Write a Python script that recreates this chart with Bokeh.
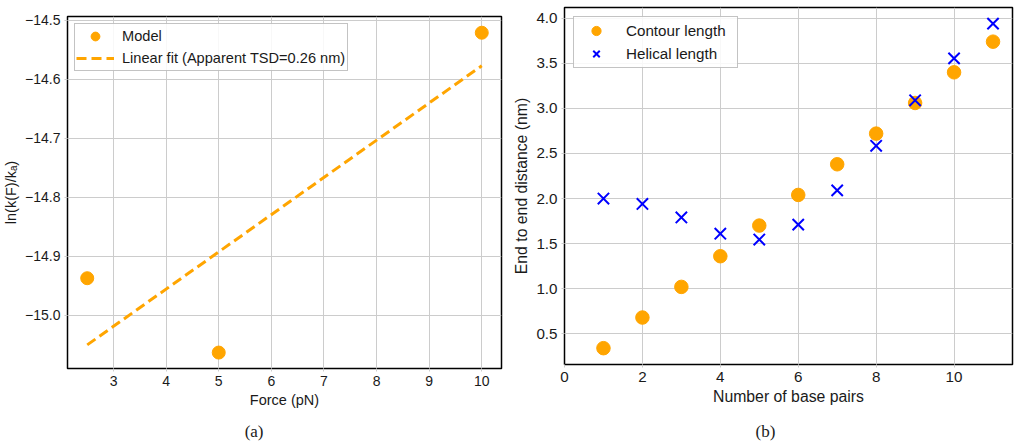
from bokeh.plotting import figure
from bokeh.layouts import row, column
from bokeh.models import (Legend, LegendItem, Label, FixedTicker,
                          CustomJSTickFormatter, Range1d)
from bokeh.embed import file_html
from bokeh.resources import INLINE

# (a) rate vs force
force = [2.5, 5.0, 10.0]
ln_rate = [-14.937, -15.063, -14.521]
fit_force = [2.5, 10.0]
fit_ln_rate = [-15.050, -14.577]
force_ticks = [3, 4, 5, 6, 7, 8, 9, 10]
ln_rate_ticks = [-15.0, -14.9, -14.8, -14.7, -14.6, -14.5]

# (b) end-to-end distance vs number of base pairs
base_pairs = [1, 2, 3, 4, 5, 6, 7, 8, 9, 10, 11]
contour = [0.34, 0.68, 1.02, 1.36, 1.70, 2.04, 2.38, 2.72, 3.06, 3.40, 3.74]
helical = [2.00, 1.94, 1.79, 1.61, 1.545, 1.71, 2.09, 2.585, 3.09, 3.555, 3.94]
bp_ticks = [0, 2, 4, 6, 8, 10]
dist_ticks = [0.5, 1.0, 1.5, 2.0, 2.5, 3.0, 3.5, 4.0]

ORANGE = "#FFA500"
SANS = "Liberation Sans"
SERIF = "Liberation Serif"
INK = "#1a1a1a"

PANEL_W = 510
PLOT_H = 420
CAPTION_H = 26

# frame borders (pixels) of each panel
A_LEFT, A_RIGHT, A_TOP, A_BOTTOM = 66, 501, 16, 368
B_LEFT, B_RIGHT, B_TOP, B_BOTTOM = 54, 502, 7, 364


def style(p, tick_size, label_size):
    p.outline_line_color = "black"
    p.outline_line_width = 1.5
    p.background_fill_color = "white"
    p.border_fill_color = "white"
    for g in (p.xgrid, p.ygrid):
        g.grid_line_color = "#cccccc"
        g.grid_line_width = 1
    for ax in (p.xaxis, p.yaxis):
        ax.axis_line_color = None
        ax.major_tick_line_color = "#cccccc"
        ax.major_tick_out = 3
        ax.major_tick_in = 0
        ax.minor_tick_line_color = None
        ax.major_label_text_font = SANS
        ax.major_label_text_font_size = tick_size
        ax.major_label_text_color = INK
        ax.major_label_standoff = 4
        ax.axis_label_text_font = SANS
        ax.axis_label_text_font_size = label_size
        ax.axis_label_text_font_style = "normal"
        ax.axis_label_text_color = INK
        ax.axis_label_standoff = 3


def style_legend(lg, margin, padding, glyph_h, glyph_w, standoff, label_w,
                 font_size):
    lg.location = "top_left"
    lg.margin = margin
    lg.padding = padding
    lg.spacing = 0
    lg.glyph_width = glyph_w
    lg.glyph_height = glyph_h
    lg.label_height = glyph_h
    lg.label_width = label_w
    lg.label_standoff = standoff
    lg.label_text_font = SANS
    lg.label_text_font_size = font_size
    lg.label_text_color = INK
    lg.border_line_color = "#888888"
    lg.border_line_width = 1
    lg.background_fill_color = "white"
    lg.background_fill_alpha = 0.85


def caption(text, x, left, right):
    # the caption strip's frame lines up with the plot frame above it,
    # so its x range is expressed in panel pixels between the frame edges
    c = figure(width=PANEL_W, height=CAPTION_H, title=None,
               toolbar_location=None, output_backend="svg",
               x_range=Range1d(left, right), y_range=Range1d(0, CAPTION_H),
               x_axis_type=None, y_axis_type=None, min_border=0)
    c.outline_line_color = None
    c.background_fill_color = "white"
    c.border_fill_color = "white"
    c.add_layout(Label(x=x, y=CAPTION_H - 11, text=text, text_align="center",
                       text_baseline="middle", text_font=SERIF,
                       text_font_size="17px", text_color=INK))
    return c


# ---- panel (a)
pa = figure(width=PANEL_W, height=PLOT_H, title=None, toolbar_location=None,
            output_backend="svg",
            x_range=Range1d(2.125, 10.375), y_range=Range1d(-15.09, -14.4935),
            min_border_left=A_LEFT, min_border_right=PANEL_W - A_RIGHT,
            min_border_top=A_TOP, min_border_bottom=PLOT_H - A_BOTTOM)
style(pa, "14px", "14.5px")
pa.xaxis.ticker = FixedTicker(ticks=force_ticks)
pa.yaxis.ticker = FixedTicker(ticks=ln_rate_ticks)
pa.yaxis.formatter = CustomJSTickFormatter(
    code='return tick.toFixed(1).replace("-", "\u2212");')
pa.xaxis.axis_label = "Force (pN)"
pa.yaxis.axis_label = "ln(k(F)/k\u2090)"

fit_line = pa.line(fit_force, fit_ln_rate, line_color=ORANGE, line_width=3,
                   line_dash="10 5")
model_pts = pa.scatter(force, ln_rate, marker="circle", size=13,
                       fill_color=ORANGE, line_color=ORANGE)

leg_a = Legend(items=[
    LegendItem(label="Model", renderers=[model_pts]),
    LegendItem(label="Linear fit (Apparent TSD=0.26 nm)", renderers=[fit_line]),
])
style_legend(leg_a, margin=7, padding=1, glyph_h=22, glyph_w=38, standoff=8,
             label_w=224, font_size="14.6px")
pa.add_layout(leg_a)

# ---- panel (b)
pb = figure(width=PANEL_W, height=PLOT_H, title=None, toolbar_location=None,
            output_backend="svg",
            x_range=Range1d(0, 11.5), y_range=Range1d(0.159, 4.119),
            min_border_left=B_LEFT, min_border_right=PANEL_W - B_RIGHT,
            min_border_top=B_TOP, min_border_bottom=PLOT_H - B_BOTTOM)
style(pb, "15.2px", "15.8px")
pb.xaxis.ticker = FixedTicker(ticks=bp_ticks)
pb.yaxis.ticker = FixedTicker(ticks=dist_ticks)
pb.yaxis.formatter = CustomJSTickFormatter(code='return tick.toFixed(1);')
pb.xaxis.axis_label = "Number of base pairs"
pb.yaxis.axis_label = "End to end distance (nm)"

contour_pts = pb.scatter(base_pairs, contour, marker="circle", size=13.5,
                         fill_color=ORANGE, line_color=ORANGE)
helical_pts = pb.scatter(base_pairs, helical, marker="x", size=16,
                         line_color="blue", line_width=2)

leg_b = Legend(items=[
    LegendItem(label="Contour length", renderers=[contour_pts]),
    LegendItem(label="Helical length", renderers=[helical_pts]),
])
style_legend(leg_b, margin=9, padding=2, glyph_h=23, glyph_w=40, standoff=10,
             label_w=109, font_size="15.2px")
pb.add_layout(leg_b)

layout = row(column(pa, caption("(a)", 253, A_LEFT, A_RIGHT)),
             column(pb, caption("(b)", 255, B_LEFT, B_RIGHT)))
open("out.html", "w").write(file_html(layout, INLINE))
